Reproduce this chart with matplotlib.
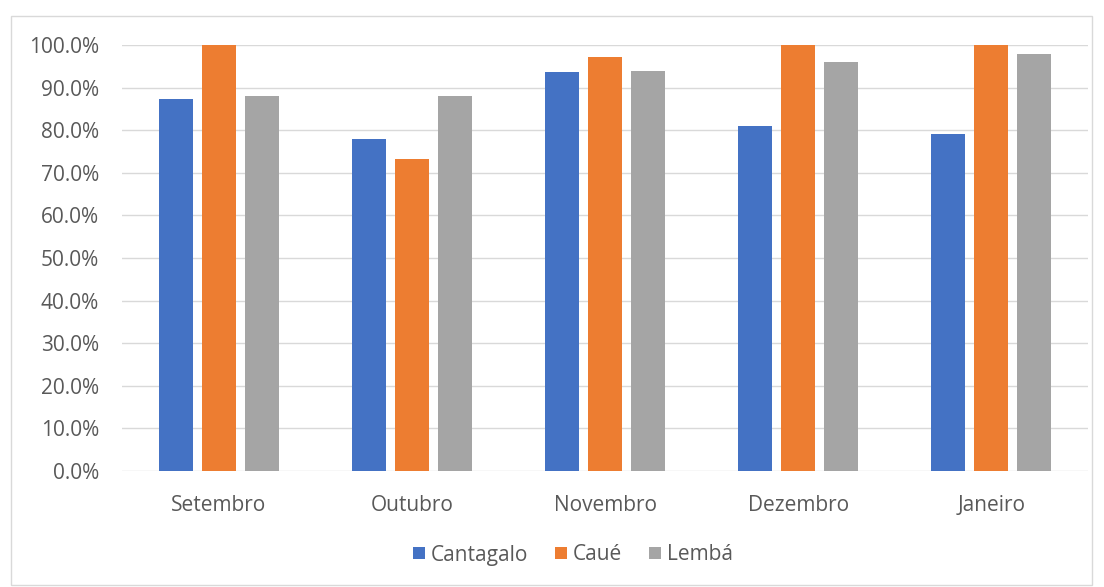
import matplotlib
matplotlib.use("Agg")
import matplotlib.pyplot as plt
import numpy as np
from matplotlib.patches import Rectangle
from matplotlib.ticker import FuncFormatter

months = ["Setembro", "Outubro", "Novembro", "Dezembro", "Janeiro"]
cantagalo = [87.3, 78.0, 93.6, 81.1, 79.0]
caue = [100.0, 73.2, 97.1, 100.0, 100.0]
lemba = [88.0, 88.0, 94.0, 95.9, 98.0]
series_names = ["Cantagalo", "Caué", "Lembá"]
colors = ["#4472C4", "#ED7D31", "#A5A5A5"]

plt.rcParams['font.family'] = ['Open Sans', 'DejaVu Sans']
txt = "#595959"
fs = 15

fig = plt.figure(figsize=(11.04, 5.87), dpi=100)
fig.patches.append(Rectangle((11/1104, 2/587), (1092-11)/1104, (571-2)/587,
                             transform=fig.transFigure, fill=False,
                             edgecolor="#d9d9d9", linewidth=1))
ax = fig.add_axes([122/1104, 116/587, 966/1104, 426/587])

x = np.arange(len(months))
w = 0.176
step = 0.2226
for i, (vals, name, c) in enumerate(zip([cantagalo, caue, lemba], series_names, colors)):
    ax.bar(x + (i - 1) * step, vals, width=w, color=c, label=name, zorder=3)

ax.set_xlim(-0.5, len(months) - 0.5)
ax.set_ylim(0, 100)
ax.set_yticks(np.arange(0, 101, 10))
ax.yaxis.set_major_formatter(FuncFormatter(lambda v, p: f"{v:.1f}%"))
ax.set_xticks(x)
ax.set_xticklabels(months)
ax.grid(axis="y", color="#d9d9d9", linewidth=1, zorder=0)
for s in ax.spines.values():
    s.set_visible(False)
ax.tick_params(axis="both", length=0, colors=txt, labelsize=fs)
ax.tick_params(axis="x", pad=17)
ax.tick_params(axis="y", pad=16.5)

ax.legend(loc="center", bbox_to_anchor=(573/1104, 32/587), bbox_transform=fig.transFigure,
          ncol=3, frameon=False, fontsize=fs, handlelength=0.55, handleheight=0.55,
          columnspacing=1.3, handletextpad=0.3, labelcolor=txt)

fig.savefig("out.png", dpi=100)
